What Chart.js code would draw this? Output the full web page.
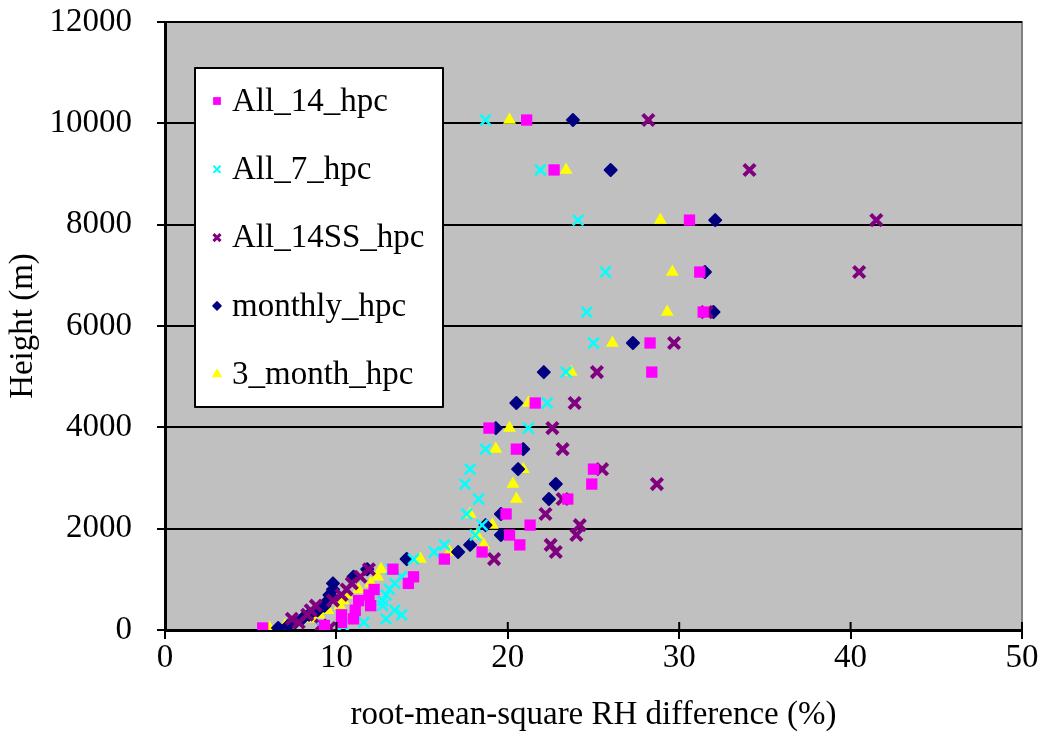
<!doctype html>
<html lang="en">
  <head>
    <meta charset="utf-8">
    <script src="https://cdn.jsdelivr.net/npm/chart.js@4.4.0/dist/chart.umd.min.js"></script>
    <title>RMS RH difference by height</title>
    <style>
      html, body { margin: 0; padding: 0; background: #fff; }
      #wrap { width: 1042px; height: 736px; }
    </style>
  </head>
  <body>
    <div id="wrap">
      <canvas id="rhChart" width="1042" height="736"></canvas>
    </div>

<script>
// heights (m) shared by every run
var heights = [40, 90, 150, 220, 300, 390, 480, 580, 690, 800, 920, 1050, 1200, 1400,
               1540, 1680, 1875, 2070, 2290, 2585, 2880, 3175, 3570, 3985, 4480, 5090,
               5665, 6275, 7065, 8090, 9080, 10065];

// rms RH difference (%) per run, one value per height
var all14 = [5.7, 9.3, 10.3, 11.0, 10.3, 11.1, 12.0, 11.3, 11.9, 12.2, 14.2, 14.5, 13.3, 16.3,
             18.5, 20.7, 20.1, 21.3, 19.9, 23.5, 24.9, 25.0, 20.5, 18.9, 21.6, 28.4,
             28.3, 31.4, 31.2, 30.6, 22.7, 21.1];
var all7 = [9.2, 10.4, 11.6, 12.9, 13.8, 13.4, 12.7, 12.7, 12.9, 13.1, 13.4, 13.8, 13.2, 14.5,
            15.7, 16.3, 18.1, 18.5, 17.6, 18.3, 17.5, 17.8, 18.7, 21.2, 22.3, 23.4,
            25.0, 24.6, 25.7, 24.1, 21.9, 18.7];
var all14ss = [9.6, 9.1, 7.8, 7.4, 8.3, 8.5, 8.8, 9.8, 10.3, 10.6, 10.9, 11.4, 11.9, 19.2,
               22.8, 22.5, 24.0, 24.2, 22.2, 23.2, 28.7, 25.5, 23.2, 22.6, 23.9, 25.2,
               29.7, 31.6, 40.5, 41.5, 34.1, 28.2];
var monthly = [6.6, 7.2, 7.6, 8.0, 8.4, 8.9, 9.3, 9.5, 9.6, 9.8, 9.8, 11.0, 11.8, 14.1,
               17.1, 17.8, 19.6, 18.7, 19.6, 22.4, 22.8, 20.6, 20.9, 19.3, 20.5, 22.1,
               27.3, 32.0, 31.5, 32.1, 26.0, 23.8];
var month3 = [6.1, 7.0, 7.8, 8.6, 9.0, 9.5, 10.2, 10.4, 10.6, 11.3, 12.0, 12.4, 12.6, 14.9,
              16.6, 18.6, 18.2, 19.1, 17.8, 20.5, 20.3, 20.9, 19.3, 20.1, 21.2, 23.7,
              26.1, 29.3, 29.6, 28.9, 23.4, 20.1];

var seriesNames = ['All_14_hpc', 'All_7_hpc', 'All_14SS_hpc', 'monthly_hpc', '3_month_hpc'];
var xTicks = [0, 10, 20, 30, 40, 50];
var yTicks = [0, 2000, 4000, 6000, 8000, 10000, 12000];

function pairs(xs) {
  return xs.map(function (v, i) { return { x: v, y: heights[i] }; });
}

var FONT = '"Liberation Serif", "Times New Roman", serif';

// gray plot background plus thin gray frame on top/right
var plotBg = {
  id: 'plotBg',
  beforeDraw: function (chart) {
    var a = chart.chartArea, ctx = chart.ctx;
    ctx.save();
    ctx.fillStyle = '#c0c0c0';
    ctx.fillRect(a.left, a.top, a.right - a.left, a.bottom - a.top);
    ctx.strokeStyle = '#808080';
    ctx.lineWidth = 2;
    ctx.beginPath();
    ctx.moveTo(a.left, a.top);
    ctx.lineTo(a.right, a.top);
    ctx.lineTo(a.right, a.bottom);
    ctx.stroke();
    ctx.restore();
  },
  beforeDatasetsDraw: function (chart) {
    // softer corners on the markers
    chart.ctx.lineJoin = 'round';
  },
  afterDraw: function (chart) {
    // x ticks cross the axis line
    var a = chart.chartArea, ctx = chart.ctx, xs = chart.scales.x;
    ctx.save();
    ctx.strokeStyle = '#000';
    ctx.lineWidth = 2;
    xTicks.forEach(function (t) {
      var px = xs.getPixelForValue(t);
      ctx.beginPath();
      ctx.moveTo(px, a.bottom - 8);
      ctx.lineTo(px, a.bottom);
      ctx.stroke();
    });
    ctx.restore();
  }
};

// boxed legend sitting inside the plot area
var boxLegend = {
  id: 'boxLegend',
  afterDraw: function (chart) {
    var a = chart.chartArea, ctx = chart.ctx;
    var bx = a.left + 30, by = a.top + 46, bw = 248, bh = 339;
    ctx.save();
    ctx.fillStyle = '#fff';
    ctx.fillRect(bx, by, bw, bh);
    ctx.strokeStyle = '#000';
    ctx.lineWidth = 2;
    ctx.strokeRect(bx, by, bw, bh);
    ctx.font = '33px ' + FONT;
    ctx.textBaseline = 'middle';
    ctx.lineJoin = 'round';
    chart.data.datasets.forEach(function (ds, i) {
      var cy = by + 33 + i * 68.3;
      ctx.fillStyle = ds.backgroundColor;
      ctx.strokeStyle = ds.borderColor;
      ctx.lineWidth = ds.legendBorder;
      Chart.helpers.drawPoint(ctx, { pointStyle: ds.pointStyle, radius: ds.legendRadius, borderWidth: ds.legendBorder }, bx + 22, cy);
      ctx.fillStyle = '#000';
      ctx.fillText(ds.label, bx + 37, cy + 1);
    });
    ctx.restore();
  }
};

var ctx = document.getElementById('rhChart').getContext('2d');
var rhChart = new Chart(ctx, {
  type: 'scatter',
  data: {
    datasets: [
      { label: seriesNames[0], data: pairs(all14), pointStyle: 'rect', pointRadius: 8,
        backgroundColor: '#ff00ff', borderColor: '#ff00ff', borderWidth: 0, legendRadius: 5.5, legendBorder: 0 },
      { label: seriesNames[1], data: pairs(all7), pointStyle: 'crossRot', pointRadius: 7.5,
        backgroundColor: '#00ffff', borderColor: '#00ffff', borderWidth: 2.5, legendRadius: 5, legendBorder: 2 },
      { label: seriesNames[2], data: pairs(all14ss), pointStyle: 'crossRot', pointRadius: 8,
        backgroundColor: '#800080', borderColor: '#800080', borderWidth: 4, legendRadius: 5, legendBorder: 3 },
      { label: seriesNames[3], data: pairs(monthly), pointStyle: 'rectRot', pointRadius: 6,
        backgroundColor: '#000080', borderColor: '#000080', borderWidth: 2, legendRadius: 4, legendBorder: 1.5 },
      { label: seriesNames[4], data: pairs(month3), pointStyle: 'triangle', pointRadius: 7.5,
        backgroundColor: '#ffff00', borderColor: '#ffff00', borderWidth: 0, legendRadius: 6, legendBorder: 0 }
    ]
  },
  plugins: [plotBg, boxLegend],
  options: {
    responsive: false,
    animation: false,
    layout: { padding: { top: 22, right: 20, left: 0, bottom: 0 } },
    scales: {
      x: {
        type: 'linear',
        min: 0, max: 50,
        afterFit: function (s) { s.height = 106; s.paddingLeft = 0; s.paddingRight = 0; },
        afterBuildTicks: function (s) { s.ticks = xTicks.map(function (v) { return { value: v }; }); },
        border: { display: true, color: '#000', width: 3 },
        grid: { display: true, drawOnChartArea: false, drawTicks: true, tickLength: 9, color: '#000', lineWidth: 2 },
        ticks: { color: '#000', padding: 0, font: { family: FONT, size: 33 },
                 callback: function (v) { return String(v); } },
        title: { display: true, text: 'root-mean-square RH difference (%)', color: '#000',
                 padding: { top: 0, bottom: 1 }, font: { family: FONT, size: 33 } }
      },
      y: {
        type: 'linear',
        min: 0, max: 12000,
        afterFit: function (s) { s.width = 165; s.paddingTop = 0; s.paddingBottom = 0; },
        afterBuildTicks: function (s) { s.ticks = yTicks.map(function (v) { return { value: v }; }); },
        border: { display: true, color: '#000', width: 3 },
        grid: { display: true, drawTicks: true, tickLength: 8, color: '#000', lineWidth: 2 },
        ticks: { color: '#000', padding: 25, font: { family: FONT, size: 33 },
                 callback: function (v) { return String(v); } },
        title: { display: true, text: 'Height (m)', color: '#000',
                 padding: { top: 4, bottom: 0 }, font: { family: FONT, size: 33 } }
      }
    },
    plugins: {
      legend: { display: false },
      tooltip: { enabled: false }
    }
  }
});
</script>
  </body>
</html>
